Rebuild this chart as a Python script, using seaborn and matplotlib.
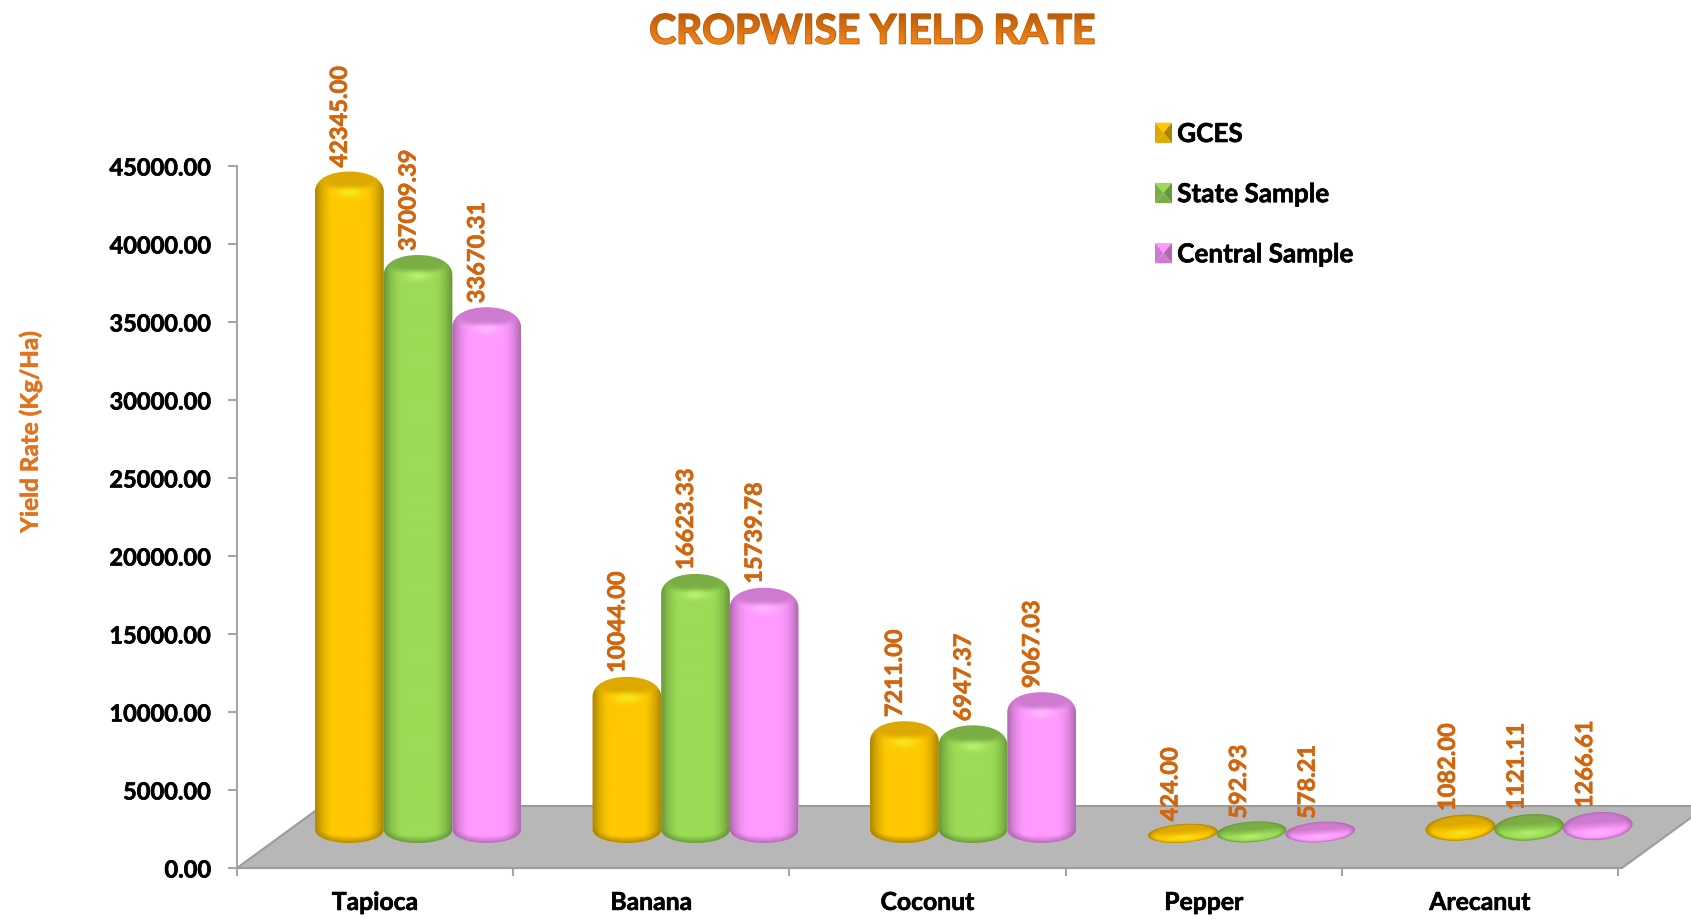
import numpy as np
import pandas as pd
import seaborn as sns
import matplotlib
matplotlib.use('Agg')
import matplotlib.pyplot as plt
import matplotlib.patheffects as pe
from matplotlib.colors import to_rgb
from matplotlib.font_manager import FontProperties
from matplotlib.legend_handler import HandlerBase
from matplotlib.patches import Patch, Polygon
from matplotlib.path import Path
from matplotlib.textpath import TextPath
from matplotlib.transforms import Affine2D, IdentityTransform

crops = ['Tapioca', 'Banana', 'Coconut', 'Pepper', 'Arecanut']
series_names = ['GCES', 'State Sample', 'Central Sample']
gces = [42345.00, 10044.00, 7211.00, 424.00, 1082.00]
state_sample = [37009.39, 16623.33, 6947.37, 592.93, 1121.11]
central_sample = [33670.31, 15739.78, 9067.03, 578.21, 1266.61]
y_ticks = np.arange(0, 45001, 5000)

W, H = 1691, 919
ORANGE = '#D2660F'

# main colour, dark edge, top face, highlight
shades = {
    'GCES': ('#FFC800', '#A98400', '#DDA900', '#F4E81E'),
    'State Sample': ('#9BDB55', '#67953A', '#7AAE45', '#B9F070'),
    'Central Sample': ('#FF99FF', '#AE68AE', '#CE7ACE', '#FFB8FF'),
}


def rgb(c):
    return np.array(to_rgb(c))


def mix(img, col, m):
    return img * (1 - m[..., None]) + rgb(col) * m[..., None]


def thick(col, lw=0.45):
    # Lato bold comes out lighter than the font of the picture
    return [pe.withStroke(linewidth=lw, foreground=col)]


def cylinder_outline(x0, x1, y_top, y_base):
    xm = (x0 + x1) / 2
    a = (x1 - x0) / 2
    top = y_top + 14
    side = y_top - 6
    low = y_base - 13
    k = 0.5523
    verts = [(x0, y_base),
             (x0, y_base - 13 * k), (xm - a * k, low), (xm, low),
             (xm + a * k, low), (x1, y_base - 13 * k), (x1, y_base),
             (x1, side),
             (x1, top - 7), (xm + a * 0.55, top), (xm, top),
             (xm - a * 0.55, top), (x0, top - 7), (x0, side),
             (x0, y_base)]
    codes = [Path.MOVETO] + [Path.CURVE4] * 6 + [Path.LINETO] + [Path.CURVE4] * 6 + [Path.CLOSEPOLY]
    return Path(verts, codes)


def cylinder_image(x0, x1, y_top, y_base, name):
    base, dark, face, light = shades[name]
    xs = np.arange(int(x0), int(x1) + 2) + 0.5
    ys = np.arange(int(y_top) + 16, int(y_base) - 16, -1) + 0.5
    X, Y = np.meshgrid(xs, ys)
    u = np.clip((X - (x0 + x1) / 2) / ((x1 - x0) / 2), -1, 1)
    img = np.ones(X.shape + (3,)) * rgb(base)
    img = mix(img, dark, np.clip((np.abs(u) - 0.45) / 0.55, 0, 1) ** 1.8)
    # top of the cylinder
    e = (u / 0.95) ** 2 + ((Y - (y_top + 6)) / 10) ** 2
    img = mix(img, face, np.clip(1.5 - e, 0, 1))
    g = np.exp(-(u / 0.36) ** 2 - ((Y - (y_top - 8)) / 5) ** 2)
    img = mix(img, light, g)
    # dark rim at the foot
    edge = y_base - 13 * np.sqrt(1 - u ** 2)
    img = mix(img, dark, np.clip(1 - (Y - edge) / 7, 0, 1) * 0.9)
    return img, (xs[0] - 0.5, xs[-1] + 0.5, ys[-1] - 0.5, ys[0] + 0.5)


def disc_outline(xm, ym, a, b, tilt):
    p = Path.unit_circle().vertices
    c, s = np.cos(tilt), np.sin(tilt)
    x = p[:, 0] * a
    y = p[:, 1] * b
    return Path(np.c_[xm + x * c - y * s, ym + x * s + y * c], Path.unit_circle().codes)


def disc_image(xm, ym, a, b, tilt, name):
    base, dark, face, light = shades[name]
    xs = np.arange(int(xm - a) - 2, int(xm + a) + 3) + 0.5
    ys = np.arange(int(ym + b) + 8, int(ym - b) - 8, -1) + 0.5
    X, Y = np.meshgrid(xs, ys)
    c, s = np.cos(tilt), np.sin(tilt)
    u = ((X - xm) * c + (Y - ym) * s) / a
    v = (-(X - xm) * s + (Y - ym) * c) / b
    img = np.ones(X.shape + (3,)) * rgb(base)
    img = mix(img, face, np.clip(v * 1.6 + 0.5, 0, 1))
    img = mix(img, light, np.exp(-(u / 0.4) ** 2 - ((v + 0.45) / 0.25) ** 2) * 0.8)
    r = np.sqrt(u ** 2 + v ** 2)
    img = mix(img, dark, np.clip((r - 0.78) / 0.22, 0, 1) ** 1.5)
    return img, (xs[0] - 0.5, xs[-1] + 0.5, ys[-1] - 0.5, ys[0] + 0.5)


class PyramidHandler(HandlerBase):
    def create_artists(self, legend, orig, xd, yd, w, h, fontsize, trans):
        base, dark, face, light = shades[orig.get_label()]
        x0, y0 = -xd, -yd - 1
        s = h + 2
        x1, y1 = x0 + w, y0 + s
        m = (x0 + w / 2, y0 + s / 2)
        sides = [([(x0, y1), (x1, y1), m], base),
                 ([(x1, y1), (x1, y0), m], dark),
                 ([(x1, y0), (x0, y0), m], face),
                 ([(x0, y0), (x0, y1), m], face)]
        return [Polygon(v, closed=True, fc=c, ec='none', transform=trans) for v, c in sides]


df = pd.DataFrame({
    'Crop': crops * 3,
    'Series': np.repeat(series_names, len(crops)),
    'Yield': gces + state_sample + central_sample,
})

sns.set_theme(style='white')
plt.rcParams['font.family'] = ['Lato', 'DejaVu Sans']
plt.rcParams['font.weight'] = 'bold'

fig = plt.figure(figsize=(W / 100, H / 100), dpi=100, facecolor='white')

# front of the chart: the axis frame
ax = fig.add_axes([237 / W, (H - 868) / H, 1381 / W, 702 / H])
ax.set_xlim(0, len(crops))
ax.set_ylim(0, 45000)
ax.set_yticks(y_ticks, [f'{t:.2f}' for t in y_ticks])
ax.set_xticks(range(len(crops) + 1), [''] * (len(crops) + 1))
ax.set_xticks(np.arange(len(crops)) + 0.5, crops, minor=True)
ax.tick_params(axis='y', length=6.5, width=1.5, color='#A6A6A6', pad=12, labelsize=17, left=True)
ax.tick_params(axis='x', which='major', length=6, width=1.5, color='#A6A6A6', bottom=True)
ax.tick_params(axis='x', which='minor', length=0, pad=16.5, labelsize=17.8)
for lab in ax.get_xticklabels(minor=True) + ax.get_yticklabels():
    lab.set_fontweight('bold')
    lab.set_color('black')
    lab.set_path_effects(thick('black'))
for side in ['top', 'right']:
    ax.spines[side].set_visible(False)
for side in ['left', 'bottom']:
    ax.spines[side].set_color('#A6A6A6')
    ax.spines[side].set_linewidth(1.5)
ax.patch.set_alpha(0)

floor = [(237, H - 868), (322, H - 806), (1707, H - 806), (1622, H - 868)]
fig.add_artist(Polygon(floor, closed=True, fc='#B7B7B7', ec='#9C9C9C', lw=1.5,
                       transform=IdentityTransform(), zorder=0.5))

# bars stand on the floor, so their axes is shifted back from the frame
ax3d = fig.add_axes([279.25 / W, (H - 848) / H, 1387.5 / W, 704 / H], zorder=3)
sns.barplot(data=df, x='Crop', y='Yield', hue='Series', order=crops, hue_order=series_names,
            palette=[shades[n][0] for n in series_names], width=0.742, gap=0, saturation=1,
            legend=False, ax=ax3d)
ax3d.set_ylim(0, 45000)
ax3d.set_xlim(-0.5, len(crops) - 0.5)
ax3d.axis('off')

fig.canvas.draw()
zero_y = ax3d.transData.transform((0, 0))[1]
tilt = np.radians(4)

for name, cont in zip(series_names, ax3d.containers):
    for bar in cont:
        x = bar.get_x()
        val = bar.get_height()
        (x0, _), (x1, y_top) = ax3d.transData.transform([(x, 0), (x + bar.get_width(), val)])
        h_px = y_top - zero_y
        if h_px > 40:
            outline = cylinder_outline(x0, x1, y_top, zero_y + 18)
            img, ext = cylinder_image(x0, x1, y_top, zero_y + 18, name)
            off = (-10, 18)
        else:
            # too short to show a side: just a flat tilted disc on the floor
            xm, ym = (x0 + x1) / 2 + 1, zero_y + 11 + 0.55 * h_px
            a, b = 35, 7 + 0.35 * h_px
            outline = disc_outline(xm, ym, a, b, tilt)
            img, ext = disc_image(xm, ym, a, b, tilt, name)
            off = (-12, 20)
        bar.set_clip_box(fig.bbox)
        bar.set_clip_path(outline, IdentityTransform())
        inv = ax3d.transData.inverted()
        (dx0, dy0), (dx1, dy1) = inv.transform([(ext[0], ext[2]), (ext[1], ext[3])])
        im = ax3d.imshow(img, extent=(dx0, dx1, dy0, dy1), aspect='auto', origin='upper',
                         interpolation='bilinear', zorder=3)
        im.set_clip_box(fig.bbox)
        im.set_clip_path(outline, IdentityTransform())
        ax3d.annotate(f'{val:.2f}', (x + bar.get_width() / 2, val), xytext=off,
                      textcoords='offset pixels', rotation=90, ha='center', va='bottom',
                      color=ORANGE, fontsize=17, fontweight='bold', zorder=5,
                      annotation_clip=False, path_effects=thick(ORANGE))
ax3d.set_ylim(0, 45000)
ax3d.set_xlim(-0.5, len(crops) - 0.5)

handles = [Patch(label=n) for n in series_names]
leg = fig.legend(handles=handles, labels=series_names, handler_map={Patch: PyramidHandler()},
                 loc='upper left', bbox_to_anchor=(1155 / W, 1 - 122 / H), frameon=False,
                 fontsize=18.8, handlelength=0.65, handleheight=0.65, handletextpad=0.2,
                 labelspacing=1.385, borderpad=0, borderaxespad=0)
for t in leg.get_texts():
    t.set_color('black')
    t.set_path_effects(thick('black'))

# title: real text with a top-to-bottom orange shading laid over it
title_str = 'CROPWISE YIELD RATE'
title_size = 29.2
title = fig.text(872 / W, 1 - 32 / H, title_str, ha='center', va='center',
                 fontsize=title_size, fontweight='bold', color='#C9640C',
                 path_effects=[pe.withStroke(linewidth=1.2, foreground='#B85A08')])
renderer = fig.canvas.get_renderer()
box = title.get_window_extent(renderer)
fp = FontProperties(family='Lato', weight='bold', size=title_size)
tp = TextPath((0, 0), title_str, size=title_size * 100 / 72, prop=fp)
ext = tp.get_extents()
descent = renderer.get_text_width_height_descent('lp', fp, False)[2]
tx = (box.x0 + box.x1) / 2 - (ext.x0 + ext.x1) / 2
ty = box.y0 + descent
clip = tp.transformed(Affine2D().translate(tx, ty))
over = fig.add_axes([0, 0, 1, 1], zorder=6)
over.axis('off')
grad = np.linspace(0, 1, 64)[:, None, None] * (rgb('#F5851A') - rgb('#BC5C08')) + rgb('#BC5C08')
gim = over.imshow(grad, extent=(box.x0, box.x1, ty + ext.y0, ty + ext.y1), aspect='auto', origin='upper')
gim.set_clip_path(clip, IdentityTransform())
over.set_xlim(0, W)
over.set_ylim(0, H)

fig.text(30 / W, 1 - 432 / H, 'Yield Rate (Kg/Ha)', rotation=90, ha='center', va='center',
         fontsize=17.5, fontweight='bold', color='#E0741E', path_effects=thick('#E0741E', 0.4))

fig.savefig('out.png', dpi=100)
